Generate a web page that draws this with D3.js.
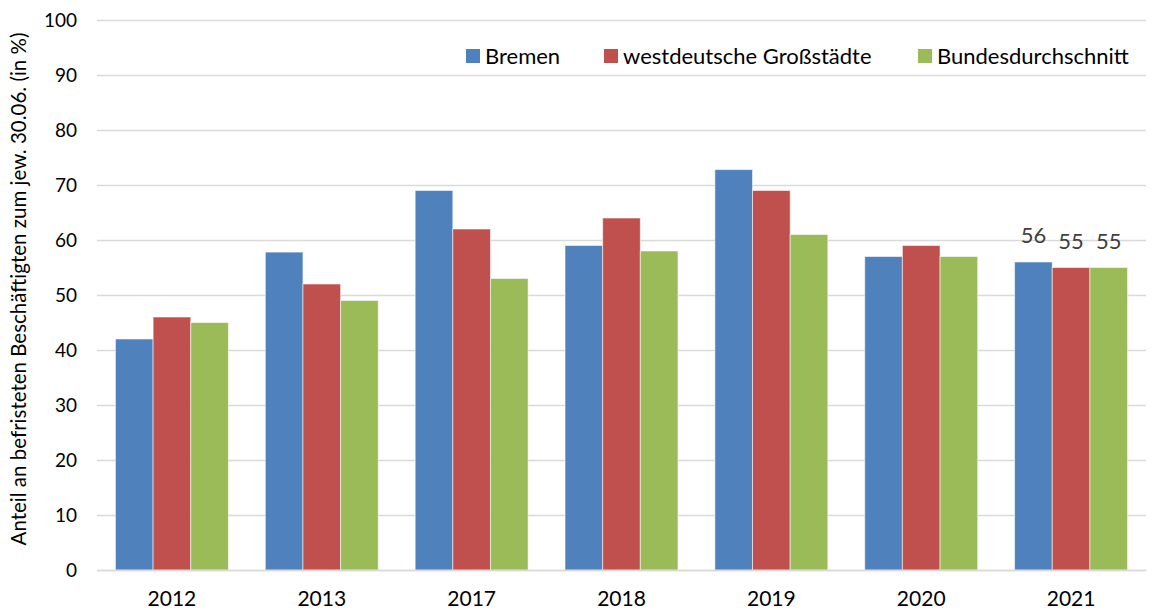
<!DOCTYPE html>
<html>
<head>
<meta charset="utf-8">
<script src="https://cdn.jsdelivr.net/npm/d3@7"></script>
<style>
  body { margin: 0; background: #fff; }
  text { font-family: Lato, "Open Sans", sans-serif; fill: #000; }
</style>
</head>
<body>
<div id="plot"></div>
<script>
// values
const years = ["2012", "2013", "2017", "2018", "2019", "2020", "2021"];
const seriesNames = ["Bremen", "westdeutsche Großstädte", "Bundesdurchschnitt"];
const bremen = [42, 57.8, 69, 59, 72.8, 57, 56];
const westStaedte = [46, 52, 62, 64, 69, 59, 55];
const bund = [45, 49, 53, 58, 61, 57, 55];
const yTicks = [0, 10, 20, 30, 40, 50, 60, 70, 80, 90, 100];
const labelYear = "2021";  // only the last group carries value labels
const colors = ["#4F81BD", "#C0504D", "#9BBB59"];

const w = 1154;
const h = 610;
const margin = {top: 20, right: 8, bottom: 40, left: 97};
const innerWidth = w - margin.left - margin.right;
const innerHeight = h - margin.top - margin.bottom;

const allSeries = [bremen, westStaedte, bund];
const data = years.map((y, i) => ({
  year: y,
  values: seriesNames.map((s, j) => ({series: s, idx: j, value: allSeries[j][i]}))
}));

const x0 = d3.scaleBand()
  .domain(years)
  .range([0, innerWidth])
  .padding(0);

const x1 = d3.scaleBand()
  .domain(seriesNames)
  .range([0, x0.bandwidth()])
  .paddingInner(0)
  .paddingOuter(0.49);

const yScale = d3.scaleLinear()
  .domain([0, 100])
  .range([innerHeight, 0]);

const svg = d3.select("div#plot")
  .append("svg")
  .attr("width", w)
  .attr("height", h);

const g = svg.append("g")
  .attr("transform", `translate(${margin.left}, ${margin.top})`);

// gridlines
const yGrid = d3.axisLeft(yScale)
  .tickValues(yTicks)
  .tickSize(-innerWidth)
  .tickFormat("");

g.append("g")
  .attr("class", "yGrid")
  .call(yGrid)
  .call(s => s.select(".domain").remove())
  .call(s => s.selectAll("text").remove())
  .selectAll("line")
  .attr("stroke", "#D9D9D9")
  .attr("stroke-width", 1.6);

// y tick labels
const yAxis = d3.axisLeft(yScale)
  .tickValues(yTicks)
  .tickSize(0)
  .tickPadding(20);

g.append("g")
  .attr("class", "yAxis")
  .call(yAxis)
  .call(s => s.select(".domain").remove())
  .selectAll("text")
  .style("font-size", "19px")
  .style("fill", "#000");

// bars
const groups = g.selectAll(".group")
  .data(data)
  .join("g")
  .attr("class", "group")
  .attr("transform", d => `translate(${x0(d.year)}, 0)`);

groups.selectAll("rect")
  .data(d => d.values)
  .join("rect")
  .attr("x", d => x1(d.series))
  .attr("y", d => yScale(d.value))
  .attr("width", x1.bandwidth())
  .attr("height", d => innerHeight - yScale(d.value))
  .attr("fill", d => colors[d.idx])
  .attr("stroke", "rgba(255,255,255,0.55)")
  .attr("stroke-width", 1);

// value labels on the last group
groups.filter(d => d.year === labelYear)
  .selectAll(".label")
  .data(d => d.values)
  .join("text")
  .attr("class", "label")
  .attr("x", d => x1(d.series) + x1.bandwidth() / 2)
  .attr("y", d => yScale(d.value) - 19)
  .attr("text-anchor", "middle")
  .style("font-size", "22px")
  .style("fill", "#404040")
  .text(d => d.value);

// x axis baseline + labels
const xAxis = d3.axisBottom(x0)
  .tickSize(0)
  .tickPadding(21);

g.append("g")
  .attr("class", "xAxis")
  .attr("transform", `translate(0, ${innerHeight})`)
  .call(xAxis)
  .call(s => s.select(".domain").attr("stroke", "#D9D9D9").attr("stroke-width", 1.6))
  .selectAll("text")
  .style("font-size", "21px")
  .style("fill", "#000");

// y axis title
svg.append("text")
  .attr("transform", "rotate(-90)")
  .attr("x", -(margin.top + innerHeight / 2) + 6)
  .attr("y", 26)
  .attr("text-anchor", "middle")
  .style("font-size", "20.5px")
  .text("Anteil an befristeten Beschäftigten zum jew. 30.06. (in %)");

// legend
const legendX = [466, 604, 918];
const legend = svg.selectAll(".legend")
  .data(seriesNames)
  .join("g")
  .attr("class", "legend")
  .attr("transform", (d, i) => `translate(${legendX[i]}, 56)`);

legend.append("rect")
  .attr("x", 0)
  .attr("y", -7)
  .attr("width", 14)
  .attr("height", 14)
  .attr("fill", (d, i) => colors[i]);

legend.append("text")
  .attr("x", 19)
  .attr("y", 0)
  .attr("dy", "0.35em")
  .style("font-size", "22px")
  .text(d => d);
</script>
</body>
</html>
